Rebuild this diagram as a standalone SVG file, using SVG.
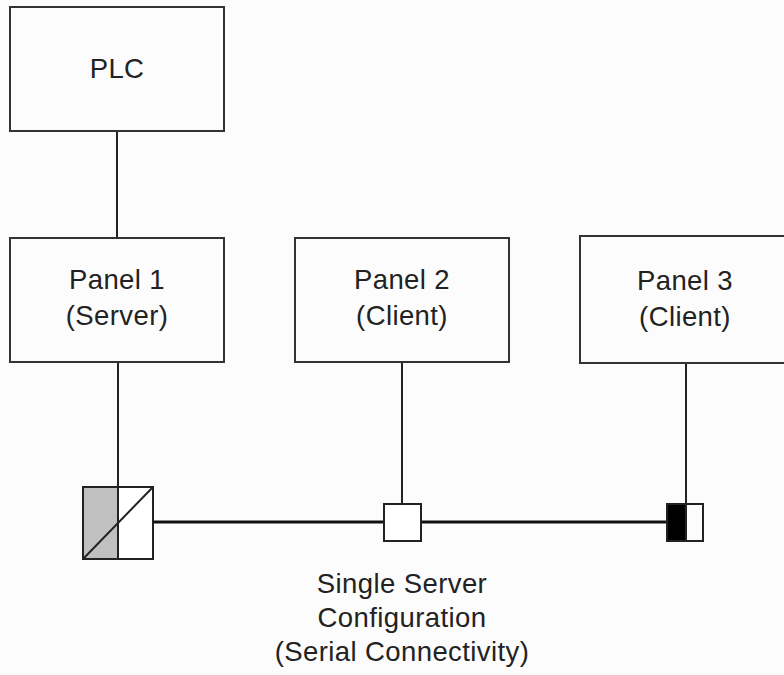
<svg xmlns="http://www.w3.org/2000/svg" width="784" height="675" viewBox="0 0 784 675">
<style>
.box{fill:#fcfcfc;stroke:#333;stroke-width:2}
.t{font-family:"Liberation Sans",Arial,sans-serif;font-size:27.5px;letter-spacing:0.4px;fill:#222;text-anchor:middle}
.c{stroke:#222;stroke-width:2;fill:none}
.bus{stroke:#111;stroke-width:3;fill:none}
.nd{stroke:#222;stroke-width:2}
</style>
<rect width="784" height="675" fill="#fcfcfc"/>
<g id="connectors">
<line class="c" x1="117" y1="131" x2="117" y2="238"/>
<line class="c" x1="118" y1="362" x2="118" y2="487"/>
<line class="c" x1="402" y1="362" x2="402" y2="504"/>
<line class="c" x1="686" y1="363" x2="686" y2="504"/>
<line class="bus" x1="153" y1="522" x2="384" y2="522"/>
<line class="bus" x1="421" y1="522" x2="667" y2="522"/>
</g>
<g id="plc">
<rect class="box" x="10" y="7" width="214" height="124"/>
<text class="t" x="117" y="78">PLC</text>
</g>
<g id="panel1">
<rect class="box" x="10" y="238" width="214" height="124"/>
<text class="t" x="117" y="289">Panel 1</text>
<text class="t" x="117" y="325">(Server)</text>
</g>
<g id="panel2">
<rect class="box" x="295" y="238" width="214" height="124"/>
<text class="t" x="402" y="289">Panel 2</text>
<text class="t" x="402" y="325">(Client)</text>
</g>
<g id="panel3">
<rect class="box" x="580" y="236" width="214" height="127"/>
<text class="t" x="685" y="290">Panel 3</text>
<text class="t" x="685" y="326">(Client)</text>
</g>
<g id="server-node">
<rect x="83" y="487" width="35" height="72" fill="#c0c0c0"/>
<rect x="118" y="487" width="35" height="72" fill="#fff"/>
<rect class="nd" x="83" y="487" width="70" height="72" fill="none"/>
<line class="nd" x1="118" y1="487" x2="118" y2="559"/>
<line class="nd" x1="83" y1="559" x2="153" y2="487"/>
</g>
<g id="client-node-2">
<rect class="nd" x="384" y="504" width="37" height="37" fill="#fff"/>
</g>
<g id="client-node-3">
<rect x="667" y="504" width="19" height="37" fill="#000"/>
<rect class="nd" x="667" y="504" width="36" height="37" fill="none"/>
<line class="nd" x1="686" y1="504" x2="686" y2="541"/>
</g>
<g id="caption">
<text class="t" x="402" y="593">Single Server</text>
<text class="t" x="402" y="627">Configuration</text>
<text class="t" x="402" y="661">(Serial Connectivity)</text>
</g>
</svg>
